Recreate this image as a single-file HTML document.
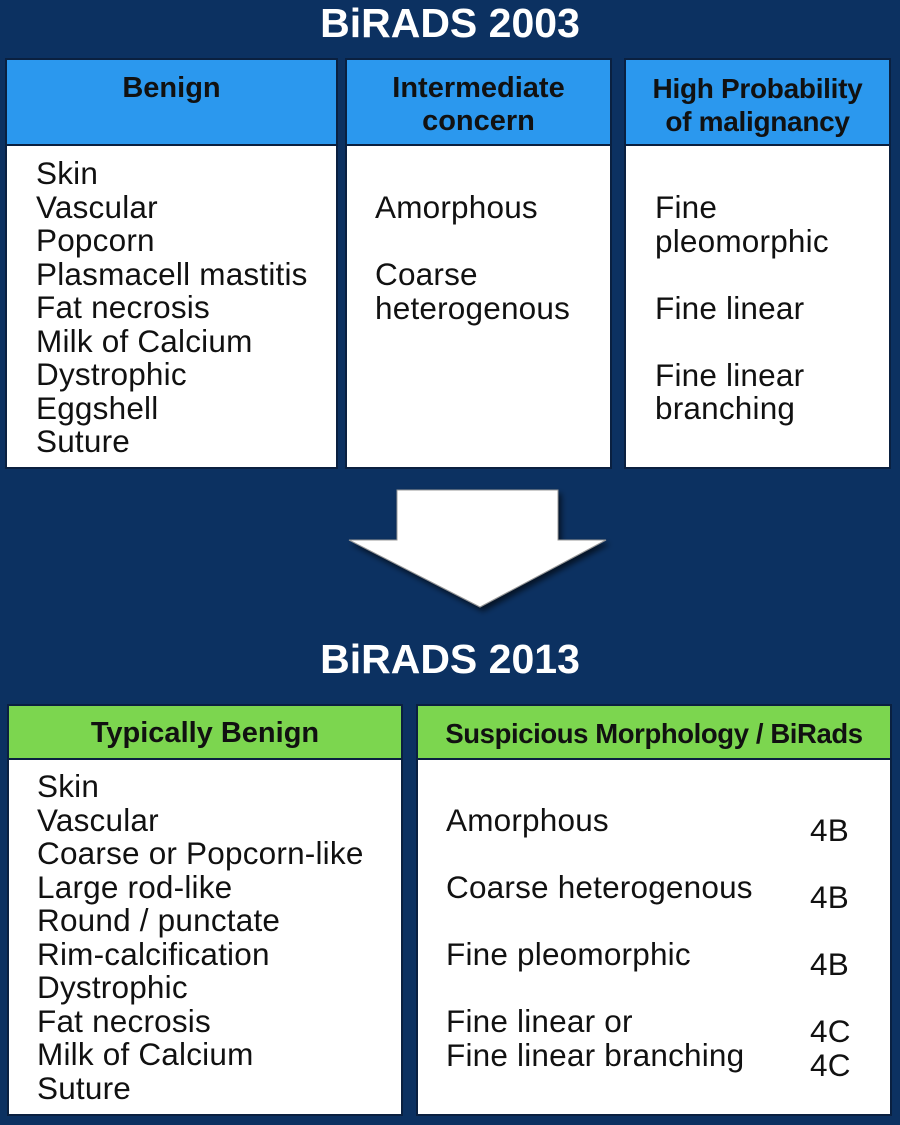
<!DOCTYPE html>
<html><head><meta charset="utf-8"><style>
body{margin:0;width:900px;height:1125px;background:#0c3161;position:relative;overflow:hidden;font-family:"Liberation Sans",sans-serif;}
.a{position:absolute}
.t{color:#fff;font-weight:bold;font-size:41px;text-align:center;width:900px;left:0}
.h{position:absolute;border:2px solid #0a2040;box-sizing:border-box;font-weight:bold;font-size:29px;color:#111;text-align:center;line-height:33px;padding-top:12px;white-space:nowrap}
.b{position:absolute;background:#fff;border:2px solid #0a2040;box-sizing:border-box}
.l{position:absolute;font-size:31.5px;line-height:33.5px;color:#111;white-space:pre;letter-spacing:0.2px}
.blue{background:#2b98ee}.green{background:#7cd64f}
</style></head><body>
<div class="a t" style="top:0px">BiRADS 2003</div>
<div class="h blue" style="left:5px;top:58px;width:333px;height:88px">Benign</div>
<div class="b" style="left:5px;top:144px;width:333px;height:325px"></div>
<div class="l" style="left:36px;top:157px">Skin
Vascular
Popcorn
Plasmacell mastitis
Fat necrosis
Milk of Calcium
Dystrophic
Eggshell
Suture</div>
<div class="h blue" style="left:345px;top:58px;width:267px;height:88px">Intermediate<br>concern</div>
<div class="b" style="left:345px;top:144px;width:267px;height:325px"></div>
<div class="l" style="left:375px;top:191px">Amorphous

Coarse
heterogenous</div>
<div class="h blue" style="left:624px;top:58px;width:267px;height:88px;font-size:28px;letter-spacing:-0.3px">High Probability<br>of malignancy</div>
<div class="b" style="left:624px;top:144px;width:267px;height:325px"></div>
<div class="l" style="left:655px;top:191px">Fine
pleomorphic

Fine linear

Fine linear
branching</div>
<svg class="a" style="left:0;top:480px" width="900" height="140">
<defs><filter id="s"><feDropShadow dx="3" dy="4" stdDeviation="3" flood-color="#000" flood-opacity="0.6"/></filter></defs>
<polygon points="397,10 558,10 558,60 606,60 480,127 349,60 397,60" fill="#fff" stroke="#999" stroke-width="1" filter="url(#s)"/>
</svg>
<div class="a t" style="top:636px">BiRADS 2013</div>
<div class="h green" style="left:7px;top:704px;width:396px;height:56px;padding-top:11px">Typically Benign</div>
<div class="b" style="left:7px;top:758px;width:396px;height:358px"></div>
<div class="l" style="left:37px;top:770px">Skin
Vascular
Coarse or Popcorn-like
Large rod-like
Round / punctate
Rim-calcification
Dystrophic
Fat necrosis
Milk of Calcium
Suture</div>
<div class="h green" style="left:416px;top:704px;width:476px;height:56px;font-size:27.5px;padding-top:11px;letter-spacing:-0.4px">Suspicious Morphology / BiRads</div>
<div class="b" style="left:416px;top:758px;width:476px;height:358px"></div>
<div class="l" style="left:446px;top:804px">Amorphous

Coarse heterogenous

Fine pleomorphic

Fine linear or
Fine linear branching</div>
<div class="l" style="left:810px;top:814px">4B

4B

4B

4C
4C</div>
</body></html>
